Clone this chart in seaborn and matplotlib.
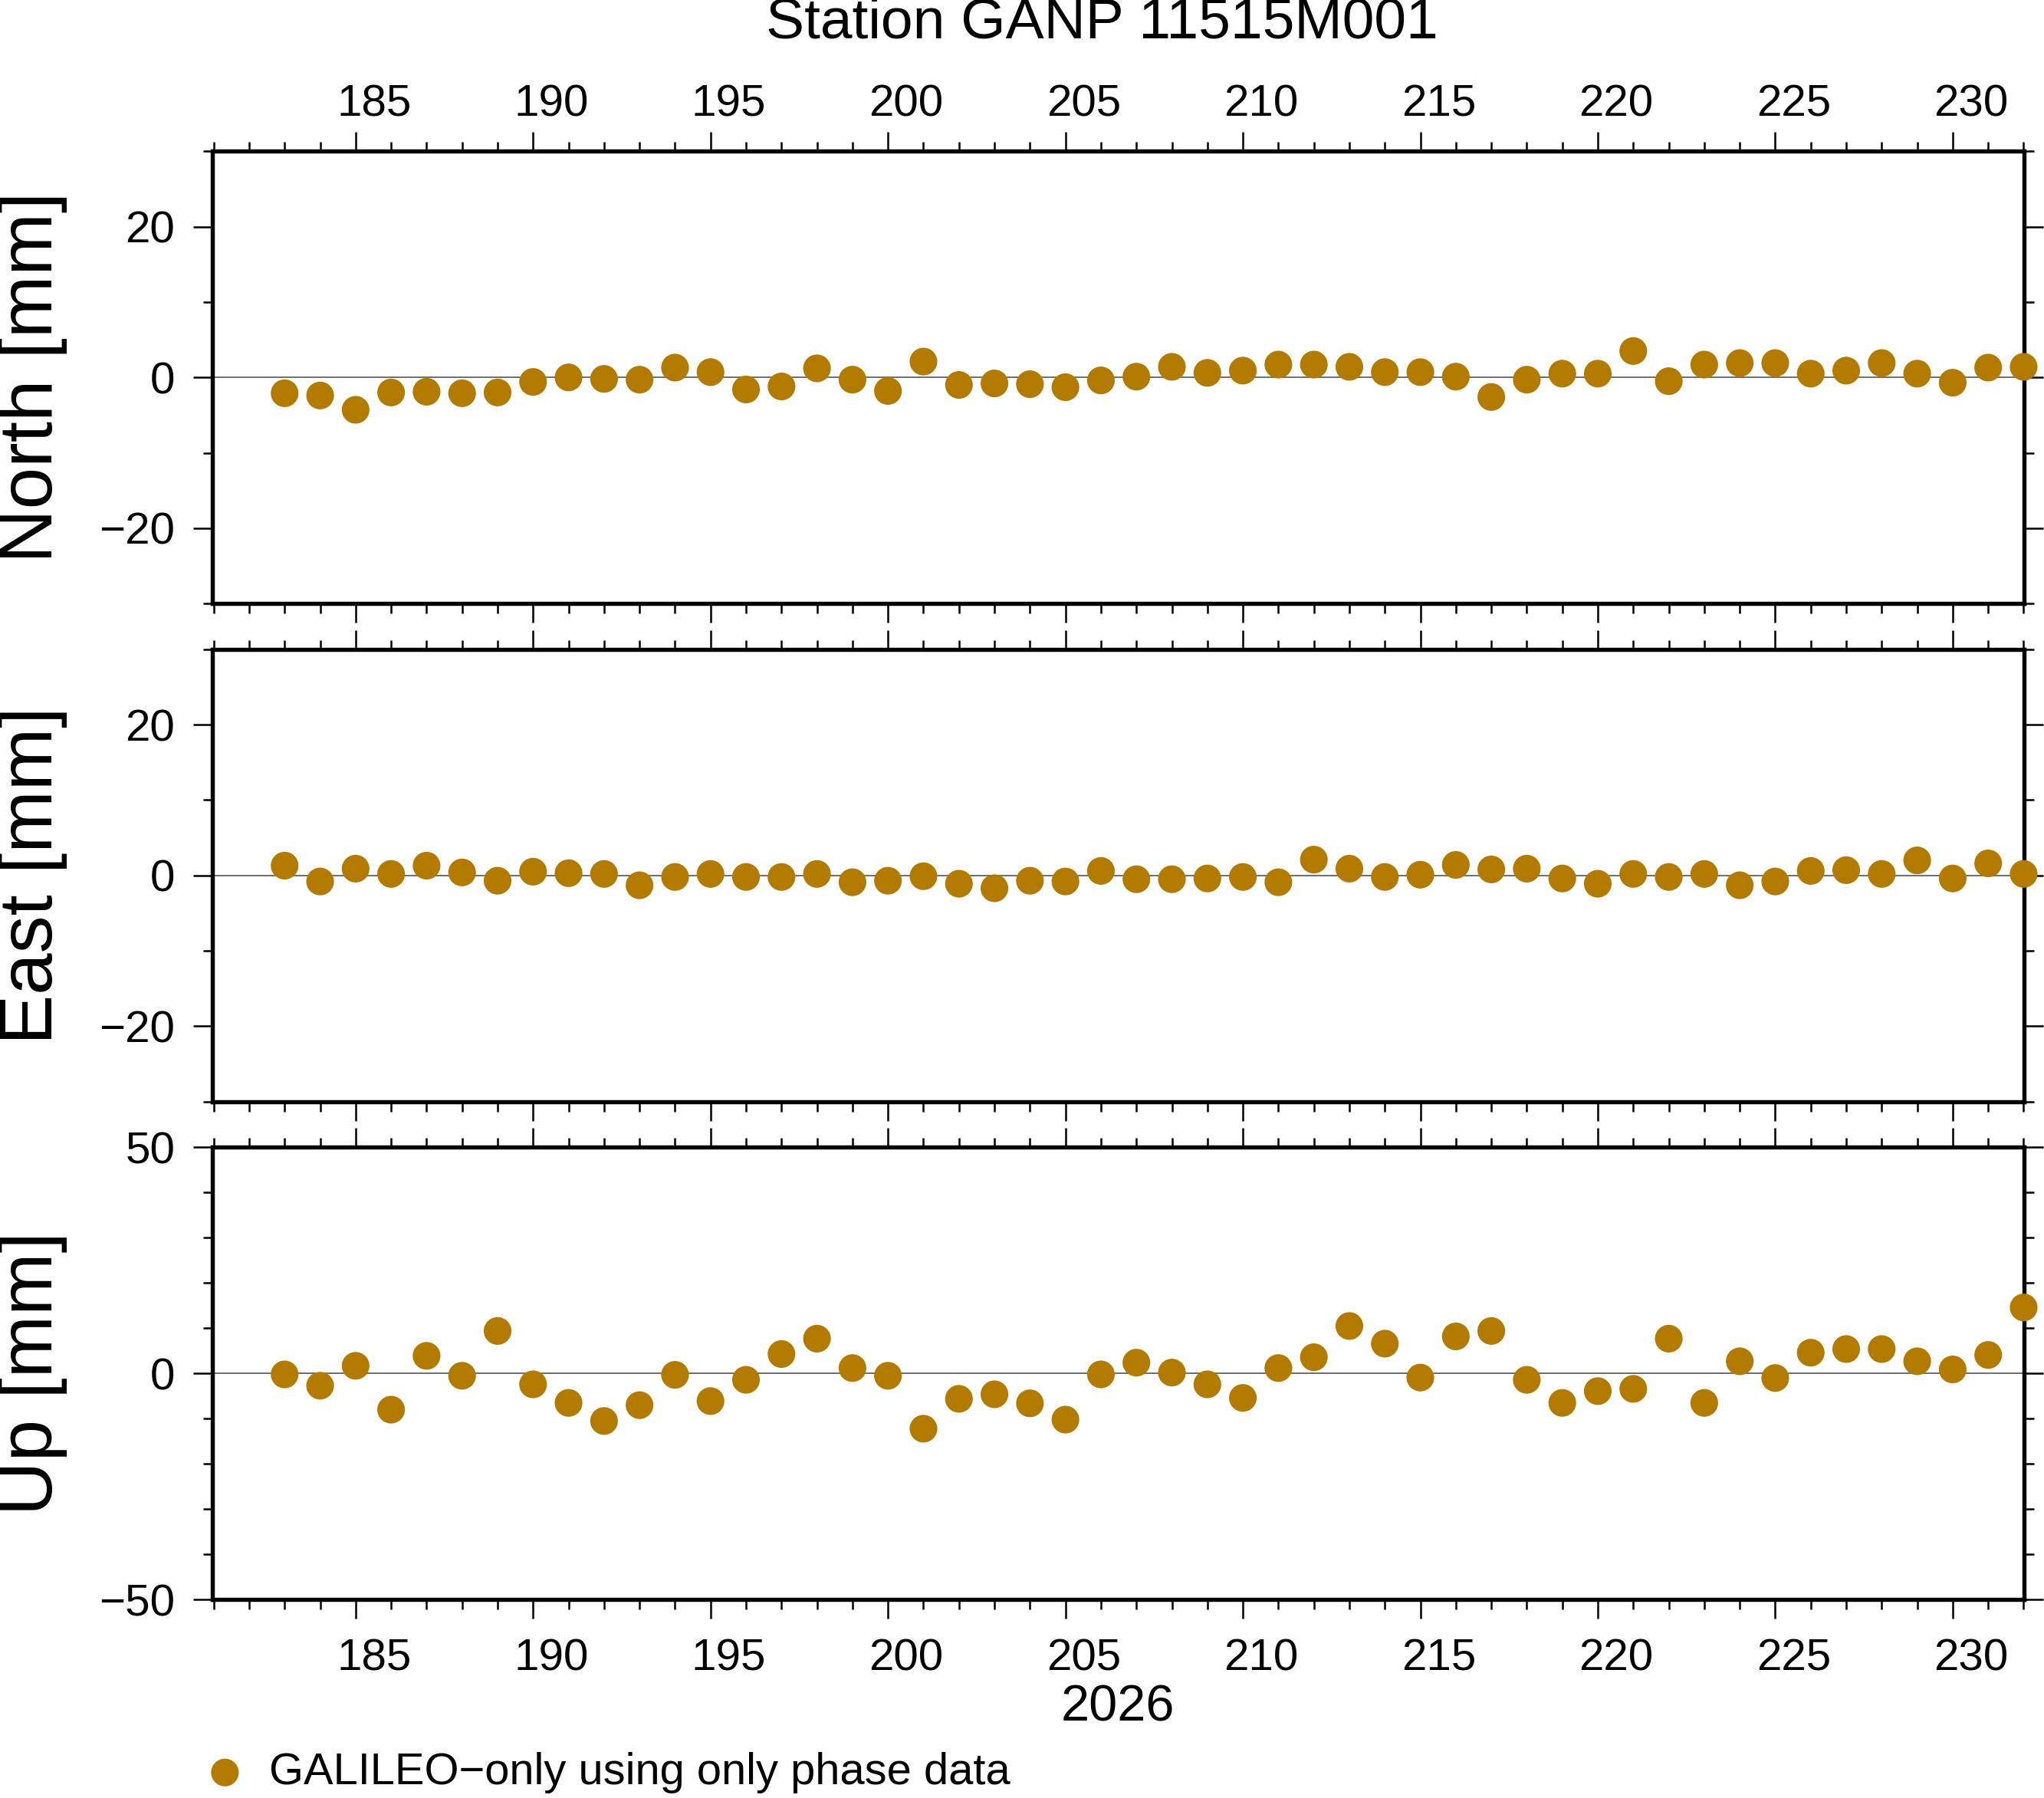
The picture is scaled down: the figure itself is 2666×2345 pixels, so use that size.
import matplotlib
matplotlib.use("Agg")
import matplotlib.pyplot as plt
from matplotlib.ticker import MultipleLocator
from matplotlib.transforms import ScaledTranslation
import numpy as np
import pandas as pd
import seaborn as sns

# ---------------- data ----------------
days = list(range(183, 233))

north = [-2.1, -2.4, -4.3, -2.0, -1.9, -2.1, -2.0, -0.6, 0.0, -0.2,
         -0.3, 1.3, 0.7, -1.6, -1.2, 1.2, -0.3, -1.8, 2.1, -1.0,
         -0.8, -0.9, -1.3, -0.4, 0.1, 1.4, 0.6, 0.9, 1.7, 1.7,
         1.4, 0.7, 0.7, 0.1, -2.6, -0.3, 0.5, 0.5, 3.5, -0.5,
         1.7, 1.9, 1.9, 0.5, 0.9, 1.9, 0.5, -0.7, 1.3, 1.4]

east = [1.3, -0.8, 0.9, 0.2, 1.3, 0.4, -0.7, 0.5, 0.3, 0.2,
        -1.3, -0.2, 0.2, -0.2, -0.2, 0.2, -0.9, -0.7, -0.1, -1.1,
        -1.7, -0.7, -0.8, 0.6, -0.5, -0.5, -0.4, -0.2, -0.9, 2.1,
        0.9, -0.2, 0.1, 1.4, 0.8, 0.9, -0.4, -1.1, 0.2, -0.2,
        0.2, -1.3, -0.8, 0.6, 0.7, 0.2, 2.0, -0.4, 1.6, 0.2]

up = [-0.2, -2.7, 1.7, -8.0, 3.9, -0.5, 9.4, -2.4, -6.5, -10.5,
      -7.0, -0.3, -6.1, -1.4, 4.3, 7.7, 1.2, -0.5, -12.2, -5.6,
      -4.6, -6.6, -10.2, -0.2, 2.4, 0.2, -2.4, -5.4, 1.2, 3.6,
      10.5, 6.6, -0.9, 8.2, 9.4, -1.4, -6.5, -3.9, -3.4, 7.7,
      -6.5, 2.7, -1.0, 4.6, 5.4, 5.4, 2.7, 0.9, 4.1, 14.6]

x_tick_days = [185, 190, 195, 200, 205, 210, 215, 220, 225, 230]
component_labels = ["North [mm]", "East [mm]", "Up [mm]"]
y_limits = [(-30, 30), (-30, 30), (-50, 50)]
y_major = [20, 20, 50]
title_text = "Station GANP 11515M001"
year_text = "2026"
series_label = "GALILEO\u2212only using only phase data"

# ---------------- style ----------------
sns.set_style("ticks")
plt.rcParams["font.family"] = ["Liberation Sans", "DejaVu Sans"]
plt.rcParams["axes.unicode_minus"] = True
for key in ["text.color", "axes.labelcolor", "xtick.color", "ytick.color",
            "axes.edgecolor"]:
    plt.rcParams[key] = "black"

point_color = "#b37a00"
W, H, DPI = 2666, 2345, 300
fig = plt.figure(figsize=(W / DPI, H / DPI), dpi=DPI)

left, width, height = 0.104, 0.8864, 0.2516
bottoms = [0.6643, 0.3873, 0.1103]
top_shift = ScaledTranslation(24 / DPI, 0, fig.dpi_scale_trans)
bottom_shift = ScaledTranslation(24 / DPI, -16 / DPI, fig.dpi_scale_trans)

series = [north, east, up]
axes = []
for i, (vals, lab, lim, maj, bot) in enumerate(
        zip(series, component_labels, y_limits, y_major, bottoms)):
    ax = fig.add_axes([left, bot, width, height])
    df = pd.DataFrame({"day": days, "value": vals})
    ax.axhline(0, color="#555555", lw=0.4, zorder=1)
    sns.scatterplot(data=df, x="day", y="value", ax=ax, color=point_color,
                    s=75, edgecolor="none", linewidth=0, clip_on=False,
                    zorder=3, label=series_label if i == 2 else None,
                    legend=(i == 2))
    ax.set_xlim(180.97, 232.02)
    ax.set_ylim(*lim)
    ax.set_xticks(x_tick_days)
    ax.xaxis.set_minor_locator(MultipleLocator(1))
    ax.yaxis.set_major_locator(MultipleLocator(maj))
    ax.yaxis.set_minor_locator(MultipleLocator(10))
    for sp in ax.spines.values():
        sp.set_visible(True)
        sp.set_linewidth(1.3)
        sp.set_color("black")
    ax.tick_params(which="both", direction="out", top=True, right=True,
                   left=True, bottom=True, color="black", width=0.6)
    ax.tick_params(which="major", length=6)
    ax.tick_params(which="minor", length=3)
    ax.tick_params(axis="x", which="major", pad=2.2, labelsize=14,
                   labelcolor="black")
    ax.tick_params(axis="y", which="major", pad=5.8, labelsize=14,
                   labelright=False, labelcolor="black")
    if i == 0:
        ax.tick_params(axis="x", labeltop=True, labelbottom=False)
    elif i == 1:
        ax.tick_params(axis="x", labeltop=False, labelbottom=False)
    else:
        ax.tick_params(axis="x", labeltop=False, labelbottom=True)
    ax.set_xlabel("")
    ax.set_ylabel("")
    ax.grid(False)
    for tk in ax.xaxis.get_major_ticks():
        tk.label1.set_transform(tk.label1.get_transform() + bottom_shift)
        tk.label2.set_transform(tk.label2.get_transform() + top_shift)
    fig.text(0.0158, bot + height / 2, lab, rotation=90, ha="center",
             va="center", fontsize=23.5, color="black")
    axes.append(ax)

# legend
handles, labels = axes[2].get_legend_handles_labels()
axes[2].get_legend().remove()
fig.legend(handles, labels, loc="center left",
           bbox_to_anchor=(0.097, 0.0141), frameon=False, fontsize=13.9,
           handletextpad=0.4, borderpad=0, borderaxespad=0,
           handlelength=1.2, labelcolor="black")

fig.text(0.539, 0.987, title_text, ha="center", va="center", fontsize=18,
         color="black")
fig.text(0.547, 0.0503, year_text, ha="center", va="center", fontsize=16,
         color="black")

fig.savefig("out.png", dpi=DPI)
